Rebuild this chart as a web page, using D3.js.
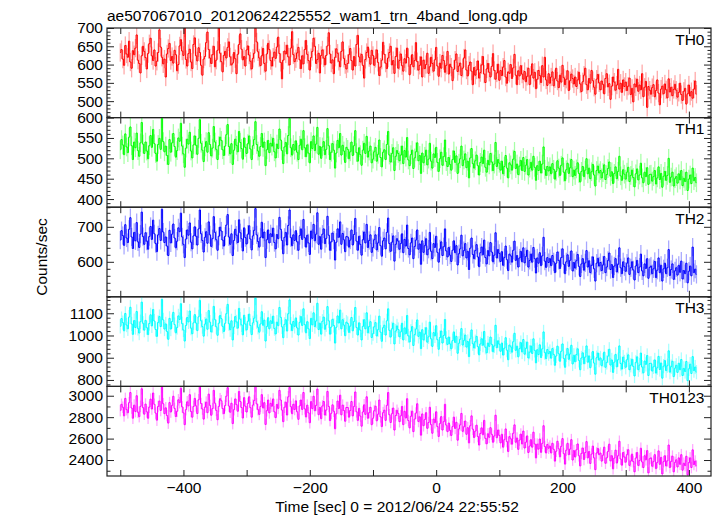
<!DOCTYPE html>
<html><head><meta charset="utf-8">
<script src="https://cdn.jsdelivr.net/npm/d3@7"></script>
<style>body{margin:0;background:#fff}svg{display:block}text{font-family:"Liberation Sans",Arial,Helvetica,sans-serif}</style>
</head><body><svg id="c" width="717" height="516"></svg>
<script>
const chartTitle = "ae507067010_20120624225552_wam1_trn_4band_long.qdp";
const xTitle = "Time [sec] 0 = 2012/06/24 22:55:52";
const yTitle = "Counts/sec";
const bandNames = ["TH0","TH1","TH2","TH3","TH0123"];
const tStart = -500, binSize = 2;

const th0 = [
633,641,615,598,652,629,620,664,607,590,638,627,645,681,612,603,577,624,650,636,
619,588,630,657,672,624,611,640,596,609,633,695,648,620,602,615,566,629,644,658,
611,622,604,639,627,583,600,651,668,637,625,700,614,596,630,642,607,589,655,673,
624,610,646,633,598,571,615,622,660,689,641,618,603,627,650,594,612,639,700,631,
608,580,625,636,618,647,662,621,599,604,633,616,575,628,655,684,642,613,622,596,
640,651,626,609,588,617,631,700,662,635,618,597,624,644,603,582,629,658,641,611,
596,620,634,617,648,675,630,606,561,612,637,629,653,621,599,645,690,627,608,616,
632,647,613,589,624,602,641,666,628,611,585,619,636,672,650,603,614,631,577,625,
640,618,599,625,651,687,629,604,613,575,620,643,631,609,594,636,662,617,600,588,
603,627,644,611,585,622,596,655,680,621,607,628,598,563,614,633,648,619,601,639,
625,598,617,640,606,570,593,612,661,628,604,589,618,633,650,599,611,576,622,645,
590,611,629,597,582,616,604,645,619,572,600,627,594,611,660,608,585,598,621,566,
612,589,600,631,576,594,620,603,582,613,647,596,568,604,590,625,611,579,598,636,
574,601,593,556,587,612,629,581,596,604,570,590,618,640,585,569,598,607,582,545,
592,571,585,610,563,578,599,622,574,551,588,603,579,566,595,630,584,560,577,601,
557,584,570,593,611,566,549,580,576,600,562,591,628,571,545,583,569,597,574,560,
581,553,568,590,545,571,602,563,579,534,560,584,570,551,597,566,620,558,543,575,
549,566,580,542,561,590,555,537,571,552,598,564,545,560,583,529,556,574,562,547,
566,540,558,579,547,526,553,571,590,545,531,562,549,584,556,538,519,560,573,550,
531,555,546,520,562,575,539,548,505,541,566,552,530,544,587,533,549,524,558,540,
552,529,541,563,518,535,498,547,539,560,527,544,531,575,512,538,554,483,540,530,
519,537,545,512,529,558,522,490,533,541,520,547,531,509,561,525,538,515,532,546,
530,511,524,549,518,502,527,535,492,520,544,514,526,508,533,555,519];

const th1 = [
521,546,533,509,560,528,514,552,577,531,497,540,526,562,519,505,538,588,535,512,
540,518,499,531,556,527,571,536,512,493,534,549,522,598,541,516,530,507,485,546,
515,538,561,529,503,519,550,542,586,530,511,478,525,547,535,564,518,501,533,555,
532,510,549,595,537,520,492,528,541,515,563,534,506,525,578,540,522,497,531,552,
544,521,507,530,558,583,529,511,536,485,520,547,532,516,566,539,524,498,550,527,
512,536,555,523,497,531,546,590,534,518,505,529,561,527,540,482,521,544,514,537,
530,549,516,501,535,524,572,545,519,487,528,539,511,556,598,526,508,534,520,543,
515,497,532,547,521,568,526,504,533,513,489,541,524,555,519,535,576,510,529,500,
528,541,509,522,573,531,497,515,536,520,476,513,544,526,561,508,532,518,490,527,
522,499,516,540,507,531,568,514,493,526,509,483,520,537,512,554,503,518,530,489,
498,516,527,493,510,545,502,479,515,521,497,534,566,508,491,512,526,470,505,519,
512,494,508,530,487,519,503,551,496,482,509,520,475,501,516,538,494,507,463,513,
489,505,520,484,498,537,493,476,511,502,527,490,468,499,515,483,504,545,492,480,
502,485,471,497,518,490,506,463,488,499,530,482,496,511,477,493,452,501,524,487,
476,494,508,482,459,490,503,487,520,478,466,495,484,512,491,470,486,539,480,497,
488,471,493,462,480,507,476,452,489,484,471,498,517,475,486,460,481,495,470,502,
468,483,497,459,476,490,471,505,478,446,482,470,493,464,486,528,473,458,480,469,
479,462,487,473,449,468,494,476,458,483,501,466,445,472,488,463,477,497,455,471,
458,474,489,463,442,468,480,455,471,499,462,476,450,467,485,459,432,470,481,464,
470,452,465,484,448,460,475,491,456,467,438,463,479,450,468,505,457,446,472,461,
449,466,478,443,458,471,453,430,462,474,447,459,488,452,440,466,455,477,436,460,
461,444,455,470,437,452,479,448,463,429,456,468,446,458,500,441,454,466,432,450,
455,439,462,447,470,433,451,443,466,421,449,459,438,476,445,453,440];

const th2 = [
662,689,675,647,706,668,655,693,726,671,638,684,660,712,657,641,679,742,672,650,
683,659,636,672,701,664,719,680,652,629,677,695,661,750,685,655,671,645,618,690,
654,679,708,668,640,659,697,686,739,671,650,612,665,691,676,711,656,637,674,700,
673,648,694,748,680,661,628,670,686,653,714,677,644,666,729,684,663,633,673,699,
688,662,645,673,705,735,671,650,680,618,661,693,676,655,720,683,666,631,697,669,
651,679,703,665,634,674,690,752,677,658,642,670,713,668,685,612,663,691,654,680,
672,696,655,637,678,666,727,693,661,623,670,684,648,704,748,669,646,677,661,689,
657,633,675,694,664,721,669,642,676,654,621,688,667,707,660,679,740,650,672,636,
679,694,652,667,730,676,633,657,682,662,605,656,694,670,714,650,681,663,629,672,
671,642,662,691,648,678,724,659,633,673,650,619,663,685,654,707,641,661,677,627,
641,663,677,634,654,698,646,616,660,668,637,684,725,652,630,656,674,602,650,666,
659,636,652,680,626,664,645,705,638,620,654,668,609,644,662,691,636,651,593,660,
627,646,666,620,636,684,630,609,652,641,673,627,599,637,657,618,643,694,631,614,
641,619,601,633,660,626,646,591,623,637,676,617,632,652,611,630,578,639,668,621,
609,632,649,614,586,626,642,620,662,612,594,632,617,655,628,600,619,683,611,635,
624,601,629,590,612,645,606,575,622,617,599,633,659,604,618,585,611,630,600,640,
597,615,633,585,604,622,599,641,609,568,611,596,626,589,617,670,602,584,612,598,
609,589,618,600,569,596,628,604,581,612,637,593,566,600,620,587,604,631,574,598,
582,603,621,587,558,594,609,576,597,632,585,603,569,590,614,580,545,596,610,588,
598,575,591,615,569,585,604,625,578,592,555,588,609,571,593,640,583,566,600,586,
573,596,611,564,583,600,577,548,588,604,569,585,622,574,560,594,581,609,553,584,
588,566,580,601,555,576,611,569,590,545,580,596,566,583,635,561,578,594,550,574,
583,562,590,570,602,551,575,566,596,540,573,588,560,642,569,579,564];

const th3 = [
1041,1076,1058,1021,1099,1047,1030,1083,1127,1052,1005,1067,1036,1108,1032,1011,1062,1150,1055,1024,
1068,1035,1004,1054,1093,1043,1117,1065,1027,996,1059,1085,1040,1162,1070,1029,1052,1018,983,1077,
1029,1063,1104,1049,1012,1036,1088,1072,1143,1053,1025,975,1045,1081,1061,1110,1033,1008,1057,1094,
1056,1022,1084,1158,1066,1040,997,1051,1074,1028,1112,1060,1016,1044,1131,1071,1039,1001,1055,1090,
1076,1041,1018,1055,1098,1140,1053,1026,1066,980,1038,1085,1061,1033,1122,1073,1048,1003,1091,1051,
1025,1064,1096,1045,1004,1057,1078,1168,1062,1037,1015,1052,1107,1046,1069,975,1040,1080,1030,1066,
1054,1087,1031,1007,1060,1044,1126,1082,1039,990,1050,1071,1020,1098,1160,1051,1022,1063,1041,1079,
1034,1002,1059,1085,1045,1120,1049,1012,1062,1030,986,1077,1048,1102,1040,1065,1145,1027,1055,1006,
1064,1083,1028,1048,1130,1066,1006,1038,1073,1045,966,1037,1088,1056,1114,1030,1071,1047,999,1060,
1054,1014,1042,1081,1021,1063,1126,1036,1002,1057,1024,980,1041,1071,1030,1102,1012,1040,1062,991,
1008,1039,1058,998,1026,1087,1015,974,1035,1046,1002,1066,1120,1023,993,1030,1055,962,1020,1043,
1027,994,1016,1055,980,1034,1008,1090,998,971,1019,1040,955,1004,1029,1070,996,1015,941,1026,
980,1006,1035,970,994,1060,985,951,1013,998,1044,981,938,991,1020,966,1000,1072,987,960,
993,962,940,977,1016,969,996,920,965,983,1031,957,978,1002,948,973,905,985,1025,963,
944,972,996,950,913,962,985,956,1018,947,922,966,951,993,960,927,953,1046,945,976,
961,929,966,912,943,990,934,891,957,949,925,972,1010,933,952,904,941,968,926,982,
916,942,970,899,925,953,919,985,933,877,936,914,958,901,940,1016,923,896,937,918,
928,898,941,915,866,908,952,918,884,929,962,897,857,913,941,893,917,956,872,911,
882,914,940,888,846,899,922,873,903,953,880,908,855,893,928,876,826,900,921,889,
899,864,889,925,857,879,907,938,867,890,834,880,915,859,891,953,874,849,903,881,
857,891,913,846,866,893,861,818,879,904,846,867,921,858,832,885,870,910,820,874,
875,840,859,890,831,855,906,847,876,808,862,887,842,864,931,835,860,884,815,853,
866,834,875,846,892,820,852,838,883,797,850,871,829,905,842,858,835];

const th0123 = [
2861,2920,2893,2812,2975,2870,2841,2935,3030,2885,2790,2912,2852,3000,2846,2805,2901,3065,2889,2828,
2922,2850,2790,2894,2968,2876,3025,2920,2838,2772,2900,2950,2862,3080,2925,2833,2887,2815,2745,2936,
2848,2910,2995,2882,2806,2855,2962,2935,3070,2896,2840,2730,2870,2943,2905,3010,2853,2800,2900,2975,
2905,2834,2962,3085,2927,2876,2782,2893,2940,2842,3015,2910,2818,2880,3050,2930,2863,2776,2900,2972,
2953,2880,2833,2908,2996,3075,2904,2846,2930,2740,2870,2970,2917,2855,3040,2946,2890,2792,2982,2902,
2848,2928,2990,2889,2800,2913,2955,3086,2924,2870,2826,2900,3010,2886,2935,2732,2860,2960,2840,2929,
2902,2970,2850,2796,2918,2882,3050,2960,2866,2758,2893,2940,2820,2990,3078,2898,2832,2920,2872,2952,
2850,2780,2905,2960,2872,3030,2878,2802,2912,2840,2748,2945,2880,2995,2860,2910,3062,2823,2890,2786,
2905,2946,2820,2866,3040,2900,2768,2836,2915,2855,2692,2832,2950,2880,3005,2822,2912,2862,2762,2890,
2890,2800,2862,2946,2812,2900,3035,2850,2770,2882,2810,2716,2848,2915,2826,2990,2790,2842,2892,2730,
2790,2860,2902,2766,2828,2960,2803,2712,2842,2865,2770,2910,3030,2822,2750,2832,2885,2680,2815,2864,
2835,2758,2812,2900,2730,2855,2792,2972,2768,2700,2808,2856,2665,2782,2838,2925,2760,2803,2632,2830,
2720,2778,2842,2696,2750,2892,2730,2650,2782,2748,2850,2712,2620,2740,2805,2680,2758,2920,2726,2665,
2745,2676,2630,2712,2800,2695,2752,2585,2690,2728,2835,2668,2710,2764,2640,2702,2560,2720,2812,2688,
2610,2670,2725,2620,2540,2648,2700,2636,2770,2602,2552,2645,2612,2702,2640,2566,2625,2818,2608,2680,
2630,2560,2640,2520,2590,2690,2572,2480,2618,2598,2548,2650,2728,2566,2605,2500,2586,2642,2550,2670,
2512,2566,2625,2470,2530,2590,2520,2660,2550,2420,2548,2502,2596,2472,2556,2720,2526,2466,2545,2510,
2530,2466,2556,2500,2390,2482,2575,2505,2430,2528,2600,2460,2362,2492,2556,2450,2502,2590,2400,2488,
2428,2495,2550,2440,2345,2462,2512,2405,2470,2572,2420,2480,2368,2455,2530,2420,2310,2466,2508,2450,
2465,2390,2445,2520,2370,2420,2480,2548,2392,2440,2318,2418,2492,2372,2440,2575,2410,2352,2470,2428,
2380,2450,2496,2350,2390,2455,2385,2290,2418,2470,2350,2395,2510,2382,2330,2440,2402,2488,2280,2412,
2420,2342,2385,2450,2320,2378,2485,2360,2425,2270,2385,2440,2345,2392,2540,2330,2388,2436,2290,2378,
2402,2335,2420,2360,2450,2305,2370,2348,2435,2262,2376,2420,2330,2495,2358,2390,2345];

const bandSeries = [th0, th1, th2, th3, th0123];
const bandErrors = [25, 23, 26, 32, 54];
const yDomains = [[455,700],[380,600],[500,756],[771,1174],[2251,3087]];
const yMajorTicks = [[500,550,600,650,700],[400,450,500,550,600],[600,700],[800,900,1000,1100],[2400,2600,2800,3000]];
const yMinorStep = [10,10,20,20,100];
const xDomain = [-521, 435];
const xTickValues = [-500,-400,-300,-200,-100,0,100,200,300,400];
const xLabelValues = [-400,-200,0,200,400];
const bandColors = ["#ff0000","#00ff00","#0000ff","#00ffff","#ff00ff"];

const svg = d3.select("#c");
const L = 107, R = 711, T = 28, B = 476;
const ph = (B - T) / bandNames.length;
const FS = "15.5px";
const x = d3.scaleLinear().domain(xDomain).range([L, R]);

function styleAxis(g) {
  g.select(".domain").remove();
  g.selectAll(".tick line").attr("stroke", "#222").attr("stroke-width", 1);
  g.selectAll(".tick text").attr("fill", "#000").style("font-size", FS)
    .style("font-family", '"Liberation Sans",Arial,Helvetica,sans-serif');
}

bandNames.forEach((name, i) => {
  const top = T + i * ph, bot = top + ph;
  const y = d3.scaleLinear().domain(yDomains[i]).range([bot, top]);
  const vals = bandSeries[i];
  const err = bandErrors[i];
  const pts = vals.map((v, k) => ({t: tStart + k * binSize, v}));
  const clipId = "clip" + i;
  svg.append("clipPath").attr("id", clipId).append("rect")
    .attr("x", L).attr("y", top).attr("width", R - L).attr("height", ph);
  const g = svg.append("g").attr("clip-path", `url(#${clipId})`);
  g.append("g").selectAll("rect").data(pts).join("rect")
    .attr("x", d => x(d.t - binSize / 2)).attr("width", d => x(d.t + binSize / 2) - x(d.t - binSize / 2))
    .attr("y", d => y(d.v + err)).attr("height", d => y(d.v - err) - y(d.v + err))
    .attr("fill", bandColors[i]).attr("fill-opacity", 0.35);
  g.append("path").datum(pts)
    .attr("d", d3.line().x(d => x(d.t)).y(d => y(d.v)).curve(d3.curveStep))
    .attr("fill", "none").attr("stroke", bandColors[i]).attr("stroke-width", 1);

  const [d0, d1] = yDomains[i];
  const st = yMinorStep[i];
  const minors = d3.range(Math.ceil(d0 / st) * st, d1 + 0.001, st).filter(v => !yMajorTicks[i].includes(v));

  svg.append("g").attr("transform", `translate(${L},0)`)
    .call(d3.axisLeft(y).tickValues(yMajorTicks[i]).tickSize(-7).tickPadding(4).tickFormat(d3.format("d")))
    .call(styleAxis);
  svg.append("g").attr("transform", `translate(${L},0)`)
    .call(d3.axisLeft(y).tickValues(minors).tickSize(-3.5).tickFormat(""))
    .call(styleAxis);
  svg.append("g").attr("transform", `translate(${R},0)`)
    .call(d3.axisRight(y).tickValues(yMajorTicks[i]).tickSize(-7).tickFormat(""))
    .call(styleAxis);
  svg.append("g").attr("transform", `translate(${R},0)`)
    .call(d3.axisRight(y).tickValues(minors).tickSize(-3.5).tickFormat(""))
    .call(styleAxis);
  svg.append("g").attr("transform", `translate(0,${top})`)
    .call(d3.axisTop(x).tickValues(xTickValues).tickSize(-6).tickFormat(""))
    .call(styleAxis);
  svg.append("g").attr("transform", `translate(0,${bot})`)
    .call(d3.axisBottom(x).tickValues(xTickValues).tickSize(-6).tickFormat(""))
    .call(styleAxis);
  if (i === bandNames.length - 1) {
    svg.append("g").attr("transform", `translate(0,${bot})`)
      .call(d3.axisBottom(x).tickValues(xLabelValues).tickSize(0).tickPadding(6))
      .call(styleAxis);
  }
  svg.append("rect").attr("x", L).attr("y", top).attr("width", R - L).attr("height", ph)
    .attr("fill", "none").attr("stroke", "#222").attr("stroke-width", 1.2);
  svg.append("text").attr("x", 704.5).attr("y", top + 16.5).attr("text-anchor", "end")
    .style("font-size", FS).attr("fill", "#000").text(name);
});

svg.append("text").attr("x", L).attr("y", 21).style("font-size", FS).attr("fill", "#000").text(chartTitle);
svg.append("text").attr("x", 397).attr("y", 512).attr("text-anchor", "middle")
  .style("font-size", FS).attr("fill", "#000").text(xTitle);
svg.append("text").attr("transform", "translate(47,257) rotate(-90)").attr("text-anchor", "middle")
  .style("font-size", FS).attr("fill", "#000").text(yTitle);
</script></body></html>
